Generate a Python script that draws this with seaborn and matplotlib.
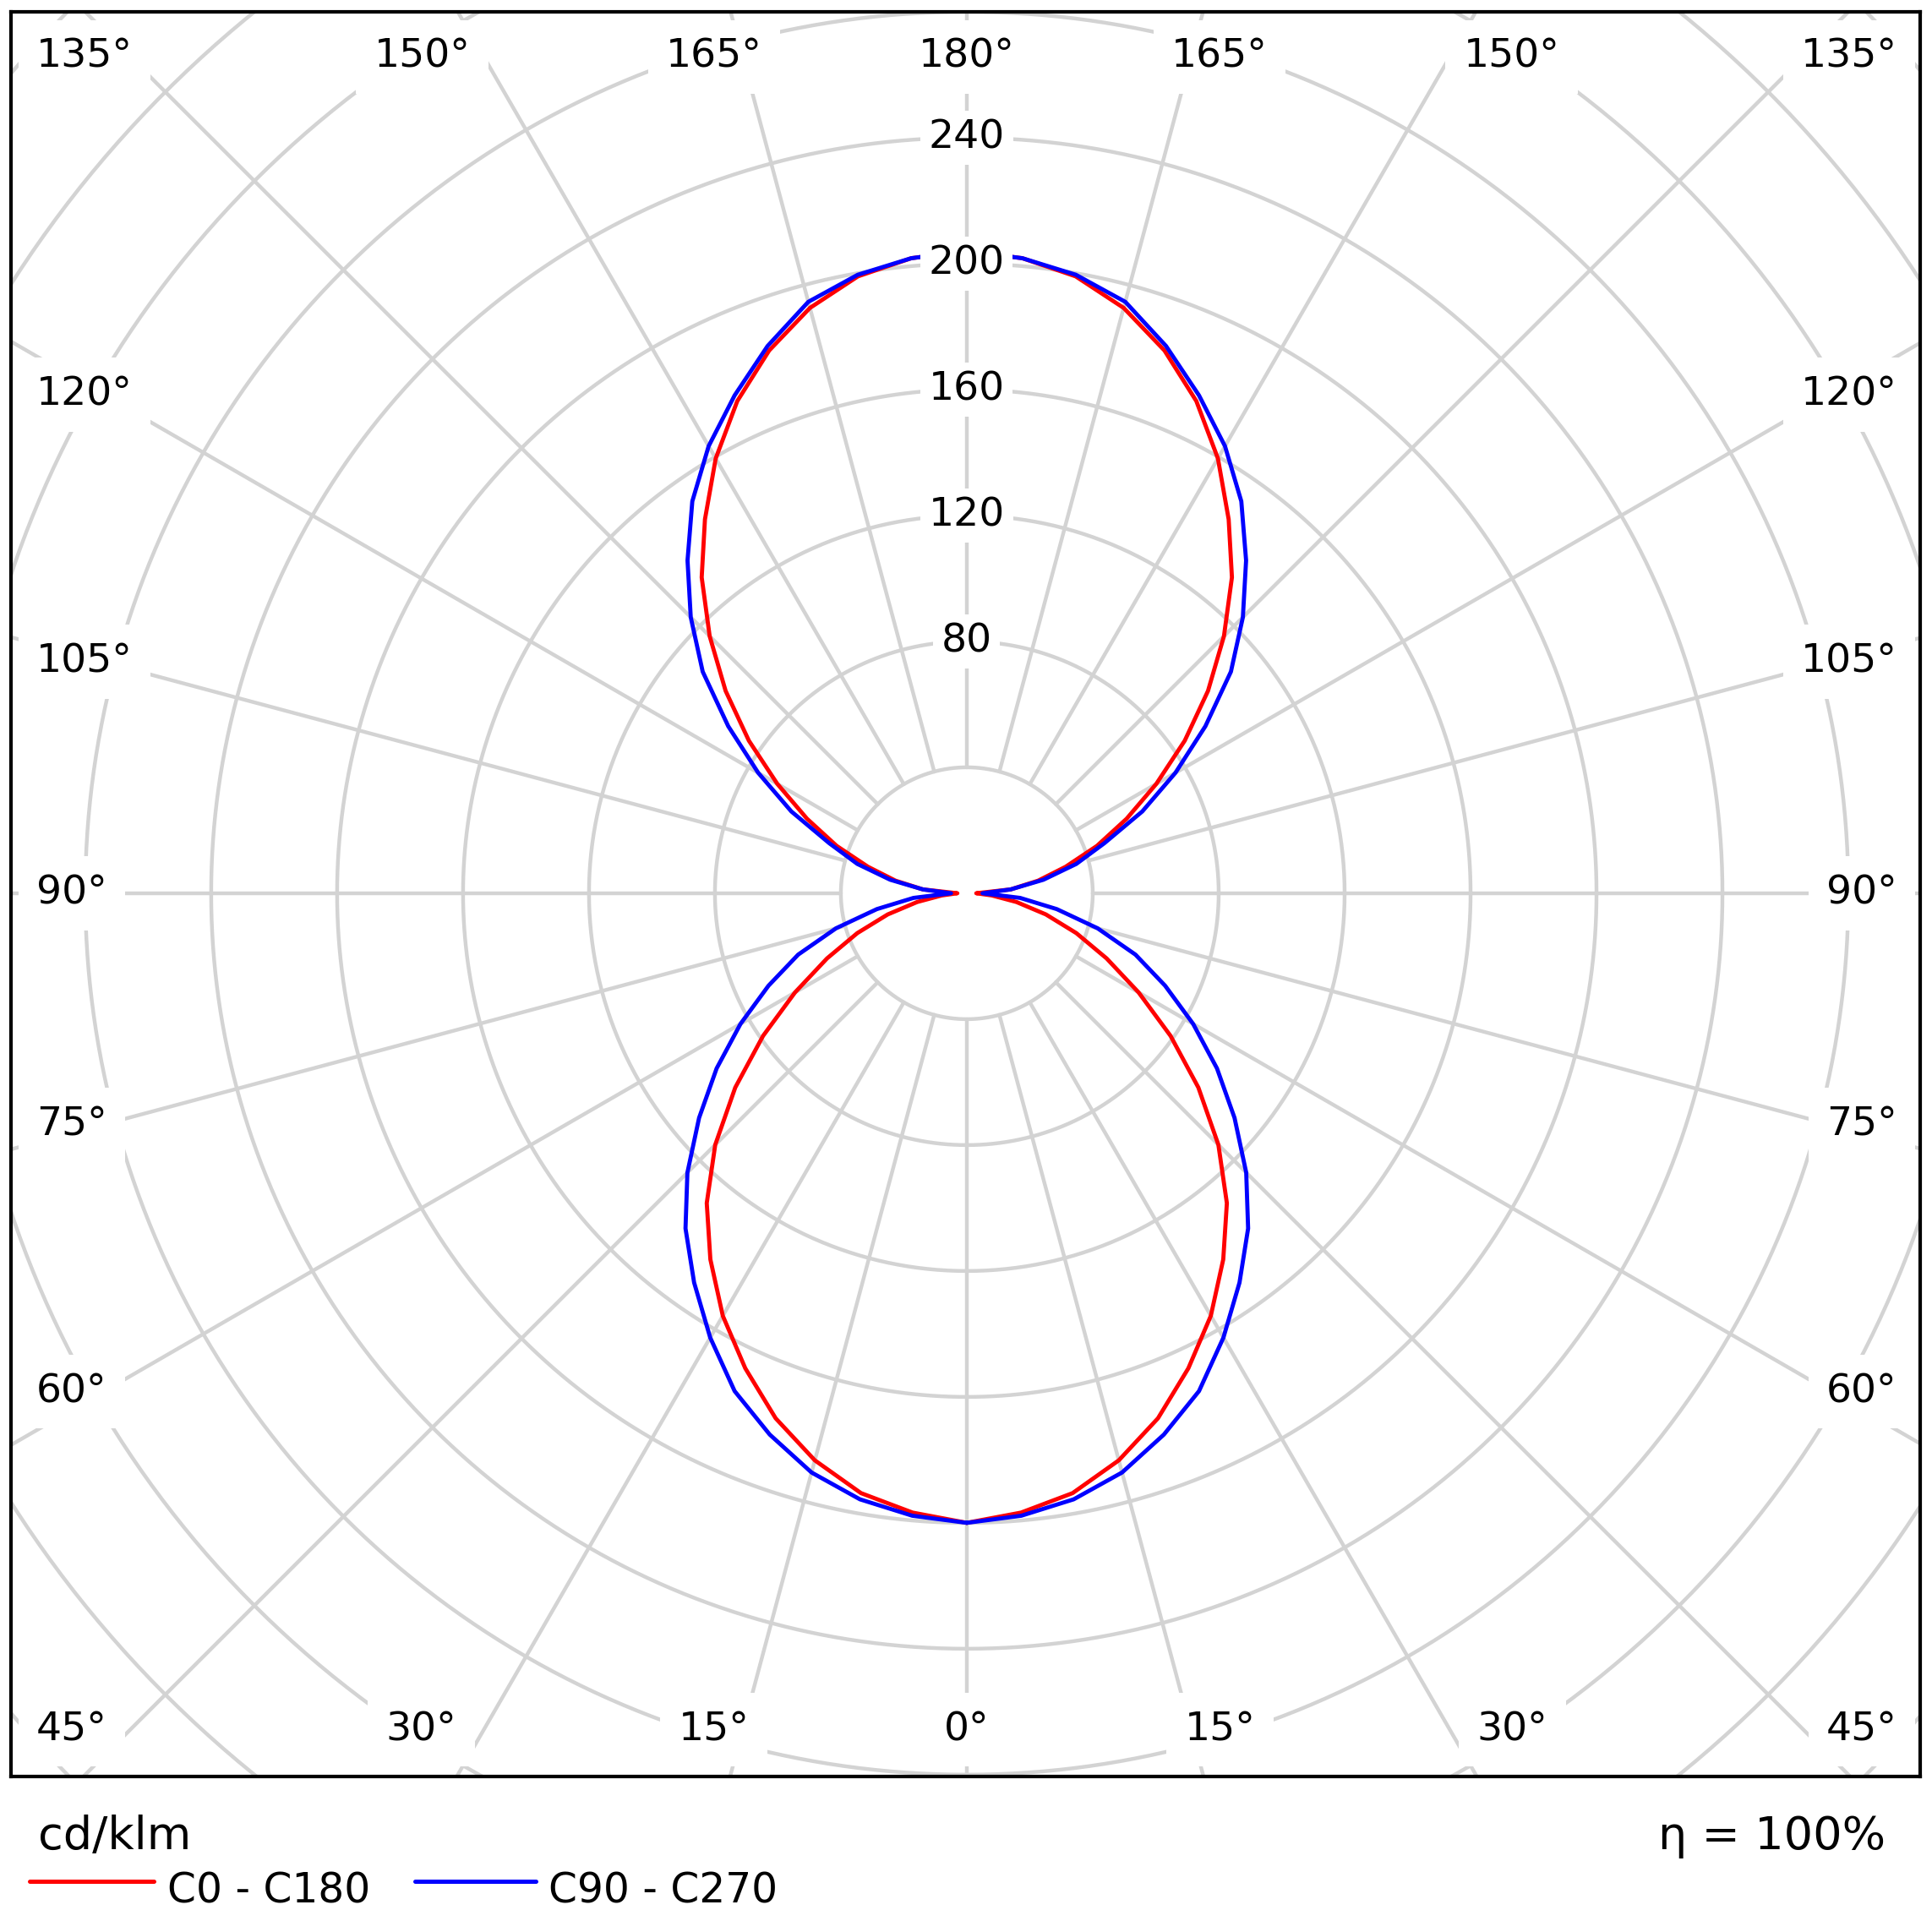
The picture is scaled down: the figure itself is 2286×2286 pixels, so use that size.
import numpy as np
import pandas as pd
import matplotlib
matplotlib.use("Agg")
import matplotlib.pyplot as plt
from matplotlib.lines import Line2D
import seaborn as sns

# gamma angles (0 = straight down, 180 = straight up), cd/klm
gamma = [0, 5, 10, 15, 20, 25, 30, 35, 40, 45, 50, 55, 60, 65, 70, 75, 80, 85, 90,
         95, 100, 105, 110, 115, 120, 125, 130, 135, 140, 145, 150, 155, 160, 165, 170, 175, 180]
c0_c180 = [200, 197.5, 193.5, 186.5, 177.5, 166.5, 155, 142, 128.5, 113, 96, 79, 63, 49, 37, 26, 16, 8, 3,
           14, 23, 32.5, 44, 56, 69.5, 84.5, 100, 115.5, 131, 145, 159.5, 172.5, 183.5, 192.5, 199, 202.5, 204]
c90_c270 = [200, 198.5, 195.5, 190.5, 183, 174.5, 163, 151, 139, 125.5, 111, 97, 83, 69.5, 57, 43, 29, 17, 5,
            14, 24.7, 36, 46.5, 61.5, 76.5, 92.5, 109.5, 124, 138, 152, 164, 174.5, 185, 194.5, 199.5, 202.5, 204]
plane_names = ["C0 - C180", "C90 - C270"]
plane_colors = ["#ff0000", "#0000ff"]

ring_values = [40, 80, 120, 160, 200, 240, 280, 320, 360, 400, 440]
ring_labels = [80, 120, 160, 200, 240]
angle_labels = [0, 15, 30, 45, 60, 75, 90, 105, 120, 135, 150, 165, 180]

sns.set_style("white")
plt.rcParams["font.family"] = ["DejaVu Sans"]
plt.rcParams["text.color"] = "black"

# polar -> cartesian, right half is C0 / C90, left half mirrored
frames = []
g = np.radians(gamma)
for name, vals in zip(plane_names, [c0_c180, c90_c270]):
    r = np.array(vals, dtype=float)
    xr = r * np.sin(g)
    yr = -r * np.cos(g)
    frames.append(pd.DataFrame({
        "x": np.concatenate([xr, -xr[::-1]]),
        "y": np.concatenate([yr, yr[::-1]]),
        "plane": name,
    }))
df = pd.concat(frames, ignore_index=True)

fig = plt.figure(figsize=(22.86, 22.86), dpi=100)
ax = fig.add_axes([0.00582, 0.08062, 0.98806, 0.91326])
xmin, xmax, ymin, ymax = -303.5, 302.8, -280.5, 280.0
ax.set_xlim(xmin, xmax)
ax.set_ylim(ymin, ymax)

grid_c = "#d3d3d3"
t = np.linspace(0, 2 * np.pi, 721)
for rv in ring_values:
    ax.plot(rv * np.cos(t), rv * np.sin(t), color=grid_c, lw=3.2, zorder=1)
for a in range(0, 360, 15):
    s, c = np.sin(np.radians(a)), -np.cos(np.radians(a))
    ax.plot([40 * s, 600 * s], [40 * c, 600 * c], color=grid_c, lw=3.2, zorder=1)

sns.lineplot(data=df, x="x", y="y", hue="plane", palette=dict(zip(plane_names, plane_colors)),
             sort=False, estimator=None, linewidth=3.5, legend=False, ax=ax, zorder=2)

fs = 34
box = dict(facecolor="white", edgecolor="none", boxstyle="square,pad=0.2")
for rv in ring_labels:
    ax.text(0, rv, str(rv), ha="center", va="center", fontsize=fs, color="black", bbox=box, zorder=3)

abox = dict(facecolor="white", edgecolor="none", boxstyle="square,pad=0.45")
ylab = 265.7
xlab = 295.5
for a in angle_labels:
    rad = np.radians(a)
    for side in ([1] if a in (0, 180) else [1, -1]):
        txt = f"{a}°"
        if a <= 30 or a >= 150:
            ye = ymax if a >= 150 else ymin
            x = 1.07 * abs(ye) * np.tan(rad) * side * (1 if a <= 30 else -1)
            y = ylab if a >= 150 else -ylab
            ax.text(x, y, txt, ha="center", va="center", fontsize=fs, color="black", bbox=abox, zorder=3)
        elif a in (45, 135):
            y = ylab if a == 135 else -ylab
            ax.text(-xlab * side, y, txt, ha="left" if side == 1 else "right", va="center",
                    fontsize=fs, color="black", bbox=abox, zorder=3)
        else:
            y = -0.905 * 303.0 * np.cos(rad) / np.sin(rad)
            ax.text(-xlab * side, y, txt, ha="left" if side == 1 else "right", va="center",
                    fontsize=fs, color="black", bbox=abox, zorder=3)

ax.set_xticks([])
ax.set_yticks([])
ax.set_xlabel("")
ax.set_ylabel("")
for sp in ax.spines.values():
    sp.set_visible(True)
    sp.set_color("black")
    sp.set_linewidth(3.0)
    sp.set_zorder(5)

fig.text(0.0197, 0.0429, "cd/klm", fontsize=39, color="black", ha="left", va="baseline")
fig.text(0.976, 0.0429, "η = 100%", fontsize=39, color="black", ha="right", va="baseline")

leg_x = [(0.0153, 0.0796), (0.2148, 0.2773)]
for (x0, x1), name, col in zip(leg_x, plane_names, plane_colors):
    fig.add_artist(Line2D([x0, x1], [0.0264, 0.0264], transform=fig.transFigure, color=col, lw=3.6))
    fig.text(x1 + 0.0068, 0.0149, name, fontsize=35, color="black", ha="left", va="baseline")

fig.savefig("out.png", dpi=100)
